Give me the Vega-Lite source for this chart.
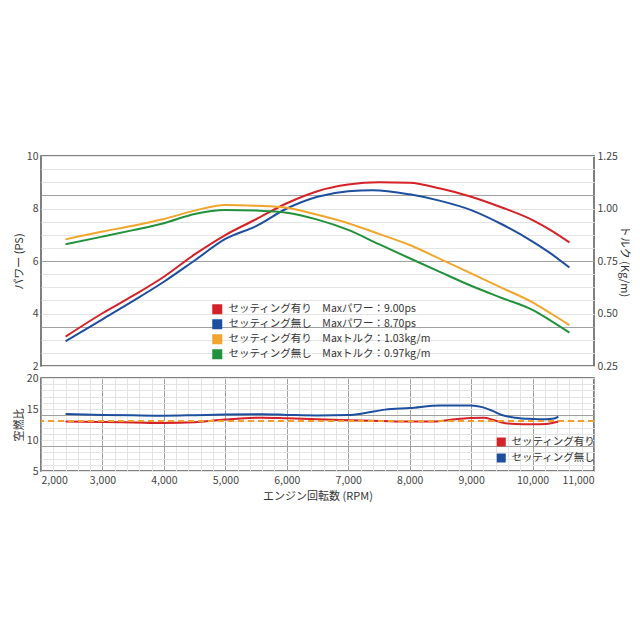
{
  "$schema": "https://vega.github.io/schema/vega-lite/v6.json",
  "padding": {"left": 12, "top": 150, "right": 5, "bottom": 5},
  "background": "white",
  "config": {
    "font": "Noto Sans CJK JP",
    "view": {"stroke": "#555555", "strokeWidth": 1.5},
    "axis": {
      "labelFont": "Noto Sans CJK JP",
      "labelColor": "#444444",
      "labelFontSize": 10.5,
      "titleFont": "Noto Sans CJK JP",
      "titleFontSize": 11,
      "titleFontWeight": "normal",
      "titleColor": "#333333",
      "ticks": false,
      "domain": false,
      "labelPadding": 3,
      "titlePadding": 2,
      "gridWidth": 1,
      "labelOverlap": false
    },
    "legend": {
      "labelFont": "Noto Sans CJK JP",
      "labelColor": "#333333",
      "padding": 0,
      "labelLimit": 400
    }
  },
  "datasets": {
    "power": [
      {"rpm": 2400, "ps": 3.12, "series": "p1"},
      {"rpm": 3000, "ps": 4.01, "series": "p1"},
      {"rpm": 3500, "ps": 4.68, "series": "p1"},
      {"rpm": 4000, "ps": 5.40, "series": "p1"},
      {"rpm": 4500, "ps": 6.25, "series": "p1"},
      {"rpm": 5000, "ps": 6.99, "series": "p1"},
      {"rpm": 5500, "ps": 7.59, "series": "p1"},
      {"rpm": 6000, "ps": 8.20, "series": "p1"},
      {"rpm": 6500, "ps": 8.66, "series": "p1"},
      {"rpm": 7000, "ps": 8.91, "series": "p1"},
      {"rpm": 7500, "ps": 9.00, "series": "p1"},
      {"rpm": 8000, "ps": 8.98, "series": "p1"},
      {"rpm": 8500, "ps": 8.76, "series": "p1"},
      {"rpm": 9000, "ps": 8.45, "series": "p1"},
      {"rpm": 9500, "ps": 8.04, "series": "p1"},
      {"rpm": 10000, "ps": 7.56, "series": "p1"},
      {"rpm": 10300, "ps": 7.17, "series": "p1"},
      {"rpm": 10600, "ps": 6.71, "series": "p1"},
      {"rpm": 2400, "ps": 2.94, "series": "p2"},
      {"rpm": 3000, "ps": 3.78, "series": "p2"},
      {"rpm": 3500, "ps": 4.48, "series": "p2"},
      {"rpm": 4000, "ps": 5.21, "series": "p2"},
      {"rpm": 4500, "ps": 6.02, "series": "p2"},
      {"rpm": 5000, "ps": 6.84, "series": "p2"},
      {"rpm": 5500, "ps": 7.33, "series": "p2"},
      {"rpm": 6000, "ps": 8.00, "series": "p2"},
      {"rpm": 6500, "ps": 8.45, "series": "p2"},
      {"rpm": 7000, "ps": 8.66, "series": "p2"},
      {"rpm": 7400, "ps": 8.70, "series": "p2"},
      {"rpm": 8000, "ps": 8.54, "series": "p2"},
      {"rpm": 8500, "ps": 8.29, "series": "p2"},
      {"rpm": 9000, "ps": 7.94, "series": "p2"},
      {"rpm": 9500, "ps": 7.40, "series": "p2"},
      {"rpm": 10000, "ps": 6.74, "series": "p2"},
      {"rpm": 10300, "ps": 6.28, "series": "p2"},
      {"rpm": 10600, "ps": 5.75, "series": "p2"}
    ],
    "torque": [
      {"rpm": 2400, "kgm": 0.853, "series": "t1"},
      {"rpm": 3000, "kgm": 0.890, "series": "t1"},
      {"rpm": 3500, "kgm": 0.918, "series": "t1"},
      {"rpm": 4000, "kgm": 0.950, "series": "t1"},
      {"rpm": 4500, "kgm": 0.990, "series": "t1"},
      {"rpm": 5000, "kgm": 1.017, "series": "t1"},
      {"rpm": 5500, "kgm": 1.013, "series": "t1"},
      {"rpm": 6000, "kgm": 1.004, "series": "t1"},
      {"rpm": 6500, "kgm": 0.970, "series": "t1"},
      {"rpm": 7000, "kgm": 0.930, "series": "t1"},
      {"rpm": 7500, "kgm": 0.879, "series": "t1"},
      {"rpm": 8000, "kgm": 0.826, "series": "t1"},
      {"rpm": 8500, "kgm": 0.759, "series": "t1"},
      {"rpm": 9000, "kgm": 0.691, "series": "t1"},
      {"rpm": 9500, "kgm": 0.622, "series": "t1"},
      {"rpm": 10000, "kgm": 0.553, "series": "t1"},
      {"rpm": 10300, "kgm": 0.500, "series": "t1"},
      {"rpm": 10600, "kgm": 0.445, "series": "t1"},
      {"rpm": 2400, "kgm": 0.830, "series": "t2"},
      {"rpm": 3000, "kgm": 0.866, "series": "t2"},
      {"rpm": 3500, "kgm": 0.897, "series": "t2"},
      {"rpm": 4000, "kgm": 0.930, "series": "t2"},
      {"rpm": 4500, "kgm": 0.974, "series": "t2"},
      {"rpm": 5000, "kgm": 0.993, "series": "t2"},
      {"rpm": 5500, "kgm": 0.990, "series": "t2"},
      {"rpm": 6000, "kgm": 0.980, "series": "t2"},
      {"rpm": 6500, "kgm": 0.947, "series": "t2"},
      {"rpm": 7000, "kgm": 0.898, "series": "t2"},
      {"rpm": 7500, "kgm": 0.830, "series": "t2"},
      {"rpm": 8000, "kgm": 0.763, "series": "t2"},
      {"rpm": 8500, "kgm": 0.697, "series": "t2"},
      {"rpm": 9000, "kgm": 0.632, "series": "t2"},
      {"rpm": 9500, "kgm": 0.574, "series": "t2"},
      {"rpm": 10000, "kgm": 0.517, "series": "t2"},
      {"rpm": 10300, "kgm": 0.465, "series": "t2"},
      {"rpm": 10600, "kgm": 0.409, "series": "t2"}
    ],
    "afr": [
      {"rpm": 2400, "afr": 12.97, "setting": "セッティング有り"},
      {"rpm": 3000, "afr": 12.90, "setting": "セッティング有り"},
      {"rpm": 3500, "afr": 12.82, "setting": "セッティング有り"},
      {"rpm": 4000, "afr": 12.74, "setting": "セッティング有り"},
      {"rpm": 4500, "afr": 12.87, "setting": "セッティング有り"},
      {"rpm": 5000, "afr": 13.30, "setting": "セッティング有り"},
      {"rpm": 5600, "afr": 13.60, "setting": "セッティング有り"},
      {"rpm": 6000, "afr": 13.50, "setting": "セッティング有り"},
      {"rpm": 6500, "afr": 13.35, "setting": "セッティング有り"},
      {"rpm": 7000, "afr": 13.20, "setting": "セッティング有り"},
      {"rpm": 7550, "afr": 13.06, "setting": "セッティング有り"},
      {"rpm": 8000, "afr": 12.97, "setting": "セッティング有り"},
      {"rpm": 8370, "afr": 13.00, "setting": "セッティング有り"},
      {"rpm": 8750, "afr": 13.34, "setting": "セッティング有り"},
      {"rpm": 9000, "afr": 13.55, "setting": "セッティング有り"},
      {"rpm": 9210, "afr": 13.60, "setting": "セッティング有り"},
      {"rpm": 9340, "afr": 13.30, "setting": "セッティング有り"},
      {"rpm": 9500, "afr": 12.80, "setting": "セッティング有り"},
      {"rpm": 9720, "afr": 12.58, "setting": "セッティング有り"},
      {"rpm": 10000, "afr": 12.53, "setting": "セッティング有り"},
      {"rpm": 10220, "afr": 12.58, "setting": "セッティング有り"},
      {"rpm": 10420, "afr": 12.97, "setting": "セッティング有り"},
      {"rpm": 2400, "afr": 14.19, "setting": "セッティング無し"},
      {"rpm": 3000, "afr": 14.05, "setting": "セッティング無し"},
      {"rpm": 3500, "afr": 13.98, "setting": "セッティング無し"},
      {"rpm": 4000, "afr": 13.93, "setting": "セッティング無し"},
      {"rpm": 4500, "afr": 14.00, "setting": "セッティング無し"},
      {"rpm": 5000, "afr": 14.10, "setting": "セッティング無し"},
      {"rpm": 5600, "afr": 14.15, "setting": "セッティング無し"},
      {"rpm": 6000, "afr": 14.05, "setting": "セッティング無し"},
      {"rpm": 6500, "afr": 13.95, "setting": "セッティング無し"},
      {"rpm": 7000, "afr": 14.03, "setting": "セッティング無し"},
      {"rpm": 7250, "afr": 14.30, "setting": "セッティング無し"},
      {"rpm": 7600, "afr": 14.90, "setting": "セッティング無し"},
      {"rpm": 8000, "afr": 15.15, "setting": "セッティング無し"},
      {"rpm": 8500, "afr": 15.55, "setting": "セッティング無し"},
      {"rpm": 9000, "afr": 15.55, "setting": "セッティング無し"},
      {"rpm": 9180, "afr": 15.30, "setting": "セッティング無し"},
      {"rpm": 9340, "afr": 14.74, "setting": "セッティング無し"},
      {"rpm": 9500, "afr": 14.03, "setting": "セッティング無し"},
      {"rpm": 9720, "afr": 13.60, "setting": "セッティング無し"},
      {"rpm": 10000, "afr": 13.40, "setting": "セッティング無し"},
      {"rpm": 10220, "afr": 13.35, "setting": "セッティング無し"},
      {"rpm": 10350, "afr": 13.45, "setting": "セッティング無し"},
      {"rpm": 10420, "afr": 13.77, "setting": "セッティング無し"}
    ]
  },
  "spacing": 12,
  "bounds": "flush",
  "resolve": {"scale": {"color": "independent"}, "legend": {"color": "independent"}},
  "vconcat": [
    {
      "width": 553,
      "height": 210,
      "layer": [
        {
          "data": {"name": "power"},
          "mark": {"type": "line", "interpolate": "monotone", "strokeWidth": 2},
          "encoding": {
            "x": {
              "field": "rpm", "type": "quantitative",
              "scale": {"domain": [2000, 11000], "nice": false, "zero": false},
              "axis": {
                "values": [2000,2200,2400,2600,2800,3000,3200,3400,3600,3800,4000,4200,4400,4600,4800,5000,5200,5400,5600,5800,6000,6200,6400,6600,6800,7000,7200,7400,7600,7800,8000,8200,8400,8600,8800,9000,9200,9400,9600,9800,10000,10200,10400,10600,10800,11000],
                "labels": false, "title": null, "grid": true,
                "gridColor": {"condition": {"test": "datum.value % 1000 === 0", "value": "#a0a0a0"}, "value": "#e4e4e4"}
              }
            },
            "y": {
              "field": "ps", "type": "quantitative",
              "scale": {"domain": [2, 10], "nice": false, "zero": false},
              "axis": {
                "values": [2,2.5,3,3.5,4,4.5,5,5.5,6,6.5,7,7.5,8,8.5,9,9.5,10],
                "labelOverlap": false,
                "labelExpr": "datum.value % 2 === 0 ? format(datum.value, 'd') : ''",
                "title": "パワー (PS)", "grid": true,
                "gridColor": {"condition": {"test": "datum.value === 3.5 || datum.value === 6 || datum.value === 8.5", "value": "#a0a0a0"}, "value": "#e4e4e4"}
              }
            },
            "color": {
              "field": "series", "type": "nominal",
              "scale": {"domain": ["p1", "p2", "t1", "t2"], "range": ["#d42228", "#1d4f9e", "#f2a52c", "#22913c"]},
              "legend": {
                "title": null, "orient": "none", "legendX": 171, "legendY": 146,
                "symbolType": "square", "symbolSize": 25, "symbolStrokeWidth": 5,
                "labelFontSize": 10.5, "rowPadding": 0, "clipHeight": 14.5, "labelOffset": 6,
                "labelExpr": "datum.value === 'p1' ? 'セッティング有り　Maxパワー：9.00ps' : datum.value === 'p2' ? 'セッティング無し　Maxパワー：8.70ps' : datum.value === 't1' ? 'セッティング有り　Maxトルク：1.03kg/m' : 'セッティング無し　Maxトルク：0.97kg/m'"
              }
            }
          }
        },
        {
          "data": {"name": "torque"},
          "mark": {"type": "line", "interpolate": "monotone", "strokeWidth": 2},
          "encoding": {
            "x": {"field": "rpm", "type": "quantitative", "axis": null},
            "y": {
              "field": "kgm", "type": "quantitative",
              "scale": {"domain": [0.25, 1.25], "nice": false, "zero": false},
              "axis": {"orient": "right", "values": [0.25, 0.5, 0.75, 1, 1.25], "format": ".2f", "grid": false, "title": "トルク (Kg/m)", "titlePadding": 1}
            },
            "color": {"field": "series", "type": "nominal", "scale": {"domain": ["p1", "p2", "t1", "t2"], "range": ["#d42228", "#1d4f9e", "#f2a52c", "#22913c"]}}
          }
        }
      ],
      "resolve": {"scale": {"y": "independent"}}
    },
    {
      "width": 553,
      "height": 93,
      "data": {"name": "afr"},
      "layer": [
        {
          "mark": {"type": "line", "interpolate": "monotone", "strokeWidth": 2},
          "encoding": {
            "x": {
              "field": "rpm", "type": "quantitative",
              "scale": {"domain": [2000, 11000], "nice": false, "zero": false},
              "axis": {
                "values": [2000,2200,2400,2600,2800,3000,3200,3400,3600,3800,4000,4200,4400,4600,4800,5000,5200,5400,5600,5800,6000,6200,6400,6600,6800,7000,7200,7400,7600,7800,8000,8200,8400,8600,8800,9000,9200,9400,9600,9800,10000,10200,10400,10600,10800,11000],
                "labelOverlap": false,
                "labelPadding": 4,
                "labelExpr": "datum.value % 1000 === 0 ? format(datum.value, ',') : ''",
                "title": "エンジン回転数 (RPM)", "titlePadding": 5, "grid": true,
                "gridColor": {"condition": {"test": "datum.value % 1000 === 0", "value": "#a0a0a0"}, "value": "#e4e4e4"}
              }
            },
            "y": {
              "field": "afr", "type": "quantitative",
              "scale": {"domain": [5, 20], "nice": false, "zero": false},
              "axis": {
                "values": [5,6,7,8,9,10,11,12,13,14,15,16,17,18,19,20],
                "labelOverlap": false,
                "labelExpr": "datum.value % 5 === 0 ? format(datum.value, 'd') : ''",
                "title": "空燃比", "grid": true,
                "gridColor": {"condition": {"test": "datum.value === 9 || datum.value === 14", "value": "#a0a0a0"}, "value": "#e4e4e4"}
              }
            },
            "color": {
              "field": "setting", "type": "nominal",
              "scale": {"domain": ["セッティング有り", "セッティング無し"], "range": ["#d42228", "#1d4f9e"]},
              "legend": {
                "title": null, "orient": "none", "legendX": 455, "legendY": 56,
                "symbolType": "square", "symbolSize": 16, "symbolStrokeWidth": 5,
                "labelFontSize": 10.5, "rowPadding": 0, "clipHeight": 16, "labelOffset": 5
              }
            }
          }
        },
        {
          "mark": {"type": "rule", "strokeDash": [6, 4], "color": "#f0a030", "strokeWidth": 1.2},
          "encoding": {
            "y": {
              "datum": 13.0, "type": "quantitative",
              "axis": {
                "values": [5,6,7,8,9,10,11,12,13,14,15,16,17,18,19,20],
                "labelOverlap": false,
                "labelExpr": "datum.value % 5 === 0 ? format(datum.value, 'd') : ''",
                "title": "空燃比", "grid": true,
                "gridColor": {"condition": {"test": "datum.value === 9 || datum.value === 14", "value": "#a0a0a0"}, "value": "#e4e4e4"}
              }
            }
          }
        }
      ]
    }
  ]
}
